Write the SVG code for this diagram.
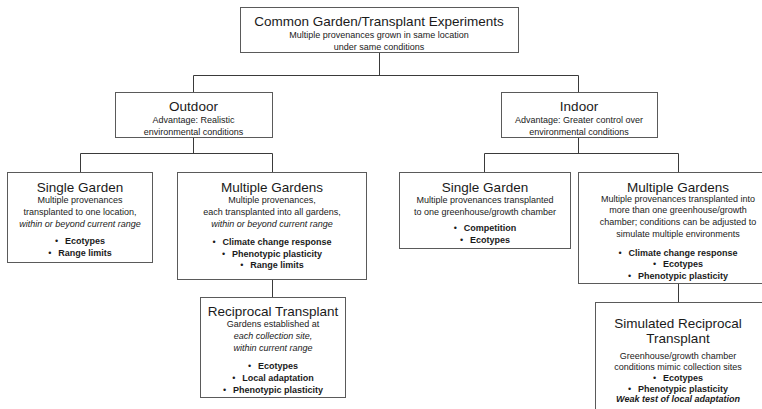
<svg xmlns="http://www.w3.org/2000/svg" width="762" height="409" viewBox="0 0 762 409">
<style>
rect{fill:#fff;stroke:#5a5a5a;stroke-width:1}
.c line, .c path{stroke:#3a3a3a;stroke-width:1;fill:none}
text{font-family:"Liberation Sans",Arial,sans-serif;fill:#1a1a1a;text-anchor:middle}
.t{font-size:13.5px}
.s{font-size:9px}
.i{font-style:italic}
.b{font-size:9px;font-weight:bold}
.bi{font-size:9px;font-weight:bold;font-style:italic}
</style>
<rect x="0" y="0" width="762" height="409" style="fill:#fff;stroke:none"/>
<g class="c" id="connectors">
<path d="M379.5,52V75.5M193.5,75.5H578.5M193.5,75.5V92M578.5,75.5V92"/>
<path d="M193.5,138V153.5M80.5,153.5H272.5M80.5,153.5V172M272.5,153.5V172"/>
<path d="M578.5,138V153.5M484.5,153.5H678.5M484.5,153.5V172M678.5,153.5V172"/>
<path d="M272.5,279V297"/>
<path d="M678.5,283V302"/>
</g>
<g id="root">
<rect x="240.5" y="7.5" width="278" height="45"/>
<text class="t" x="379" y="26">Common Garden/Transplant Experiments</text>
<text class="s" x="379" y="38">Multiple provenances grown in same location</text>
<text class="s" x="379" y="50">under same conditions</text>
</g>
<g id="outdoor">
<rect x="115.5" y="92.5" width="157" height="45"/>
<text class="t" x="193.5" y="111">Outdoor</text>
<text class="s" x="193.5" y="123">Advantage: Realistic</text>
<text class="s" x="193.5" y="135">environmental conditions</text>
</g>
<g id="indoor">
<rect x="501.5" y="92.5" width="156" height="45"/>
<text class="t" x="579" y="111">Indoor</text>
<text class="s" x="579" y="123">Advantage: Greater control over</text>
<text class="s" x="579" y="135">environmental conditions</text>
</g>
<g id="out-single">
<rect x="7.5" y="172.5" width="145" height="90"/>
<text class="t" x="80" y="192">Single Garden</text>
<text class="s" x="80" y="203">Multiple provenances</text>
<text class="s" x="80" y="215">transplanted to one location,</text>
<text class="s i" x="80" y="227">within or beyond current range</text>
<text class="b" x="80" y="244"><tspan font-weight="normal">•</tspan><tspan dx="7">Ecotypes</tspan></text>
<text class="b" x="80" y="256"><tspan font-weight="normal">•</tspan><tspan dx="7">Range limits</tspan></text>
</g>
<g id="out-multiple">
<rect x="177.5" y="172.5" width="189" height="107"/>
<text class="t" x="272" y="192">Multiple Gardens</text>
<text class="s" x="272" y="203">Multiple provenances,</text>
<text class="s" x="272" y="215">each transplanted into all gardens,</text>
<text class="s i" x="272" y="227">within or beyond current range</text>
<text class="b" x="272" y="245"><tspan font-weight="normal">•</tspan><tspan dx="7">Climate change response</tspan></text>
<text class="b" x="272" y="257"><tspan font-weight="normal">•</tspan><tspan dx="7">Phenotypic plasticity</tspan></text>
<text class="b" x="272" y="268"><tspan font-weight="normal">•</tspan><tspan dx="7">Range limits</tspan></text>
</g>
<g id="reciprocal">
<rect x="200.5" y="297.5" width="145" height="100"/>
<text class="t" x="273" y="316">Reciprocal Transplant</text>
<text class="s" x="273" y="327">Gardens established at</text>
<text class="s i" x="273" y="339">each collection site,</text>
<text class="s i" x="273" y="351">within current range</text>
<text class="b" x="273" y="369"><tspan font-weight="normal">•</tspan><tspan dx="7">Ecotypes</tspan></text>
<text class="b" x="273" y="381"><tspan font-weight="normal">•</tspan><tspan dx="7">Local adaptation</tspan></text>
<text class="b" x="273" y="393"><tspan font-weight="normal">•</tspan><tspan dx="7">Phenotypic plasticity</tspan></text>
</g>
<g id="in-single">
<rect x="399.5" y="172.5" width="171" height="76"/>
<text class="t" x="485" y="192">Single Garden</text>
<text class="s" x="485" y="203">Multiple provenances transplanted</text>
<text class="s" x="485" y="215">to one greenhouse/growth chamber</text>
<text class="b" x="485" y="231"><tspan font-weight="normal">•</tspan><tspan dx="7">Competition</tspan></text>
<text class="b" x="485" y="243"><tspan font-weight="normal">•</tspan><tspan dx="7">Ecotypes</tspan></text>
</g>
<g id="in-multiple">
<rect x="578.5" y="172.5" width="200" height="111"/>
<text class="t" x="678" y="192">Multiple Gardens</text>
<text class="s" x="678" y="202">Multiple provenances transplanted into</text>
<text class="s" x="678" y="213">more than one greenhouse/growth</text>
<text class="s" x="678" y="225">chamber; conditions can be adjusted to</text>
<text class="s" x="678" y="237">simulate multiple environments</text>
<text class="b" x="678" y="256"><tspan font-weight="normal">•</tspan><tspan dx="7">Climate change response</tspan></text>
<text class="b" x="678" y="267"><tspan font-weight="normal">•</tspan><tspan dx="7">Ecotypes</tspan></text>
<text class="b" x="678" y="279"><tspan font-weight="normal">•</tspan><tspan dx="7">Phenotypic plasticity</tspan></text>
</g>
<g id="simulated">
<rect x="595.5" y="302.5" width="190" height="120"/>
<text class="t" x="678" y="328">Simulated Reciprocal</text>
<text class="t" x="678" y="343">Transplant</text>
<text class="s" x="678" y="359">Greenhouse/growth chamber</text>
<text class="s" x="678" y="370">conditions mimic collection sites</text>
<text class="b" x="678" y="381"><tspan font-weight="normal">•</tspan><tspan dx="7">Ecotypes</tspan></text>
<text class="b" x="678" y="392"><tspan font-weight="normal">•</tspan><tspan dx="7">Phenotypic plasticity</tspan></text>
<text class="bi" x="678" y="402">Weak test of local adaptation</text>
</g>
</svg>
